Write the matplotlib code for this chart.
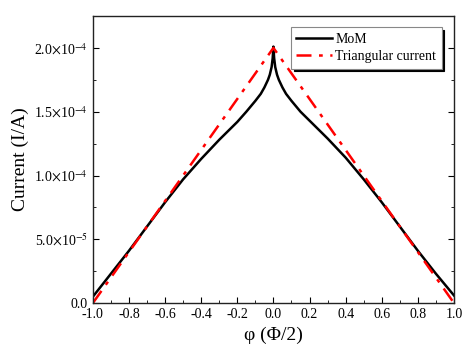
import matplotlib
matplotlib.use("Agg")
import matplotlib.pyplot as plt
from matplotlib.ticker import MultipleLocator, FuncFormatter

plt.rcParams["font.family"] = ["Liberation Serif", "DejaVu Serif"]
plt.rcParams["mathtext.fontset"] = "stix"

# MoM current distribution (units of A)
phi_mom = [-1.0, -0.9, -0.8, -0.7, -0.6, -0.5, -0.4, -0.3, -0.25, -0.2, -0.15, -0.1,
           -0.07, -0.05, -0.03, -0.02, -0.01, -0.004, 0.0,
           0.004, 0.01, 0.02, 0.03, 0.05, 0.07, 0.1, 0.15, 0.2, 0.25, 0.3, 0.4,
           0.5, 0.6, 0.7, 0.8, 0.9, 1.0]
cur_mom = [0.05e-4, 0.23e-4, 0.41e-4, 0.60e-4, 0.79e-4, 0.97e-4, 1.13e-4, 1.28e-4,
           1.35e-4, 1.42e-4, 1.50e-4, 1.585e-4, 1.64e-4, 1.69e-4, 1.75e-4, 1.79e-4,
           1.85e-4, 1.92e-4, 2.01e-4,
           1.92e-4, 1.85e-4, 1.79e-4, 1.75e-4, 1.69e-4, 1.64e-4, 1.585e-4, 1.50e-4,
           1.43e-4, 1.36e-4, 1.29e-4, 1.14e-4, 0.97e-4, 0.79e-4, 0.60e-4, 0.41e-4,
           0.23e-4, 0.06e-4]

# triangular current
phi_tri = [-1.0, 0.0, 1.0]
cur_tri = [0.0, 2.0e-4, 0.0]

fig = plt.figure(figsize=(4.71, 3.55), dpi=100)
ax = fig.add_axes([0.197, 0.146, 0.767, 0.809])

ax.plot(phi_mom, cur_mom, color="black", linewidth=1.8, label="MoM")
ax.plot(phi_tri, cur_tri, color="red", linewidth=1.8, linestyle=(0, (6, 3, 1.5, 3)),
        label="Triangular current")

ax.set_xlim(-1.0, 1.0)
ax.set_ylim(0, 2.25e-4)
ax.xaxis.set_major_locator(MultipleLocator(0.2))
ax.xaxis.set_minor_locator(MultipleLocator(0.1))
ax.yaxis.set_major_locator(MultipleLocator(5e-5))
ax.yaxis.set_minor_locator(MultipleLocator(2.5e-5))


def _yfmt(v, pos):
    if abs(v) < 1e-12:
        return "0.0"
    exp = int(f"{v:e}".split("e")[1])
    mant = v / 10 ** exp
    return f"{mant:.1f}$\\times$10$^{{{exp}}}$"


ax.yaxis.set_major_formatter(FuncFormatter(_yfmt))
ax.xaxis.set_major_formatter(FuncFormatter(lambda v, p: f"{v:.1f}"))

ax.tick_params(which="both", direction="in", top=False, right=True, labelsize=10)
ax.tick_params(which="major", length=4)
ax.tick_params(which="minor", length=2.5)
for s in ax.spines.values():
    s.set_linewidth(1.0)
    s.set_color("#222222")

ax.set_xlabel("φ (Φ/2)", fontsize=14)
ax.set_ylabel("Current (I/A)", fontsize=14)

leg = ax.legend(loc="upper right", fontsize=10, fancybox=False,
                shadow={"color": "black", "alpha": 1},
                framealpha=1, edgecolor="#888888", handlelength=2.6,
                borderpad=0.4, labelspacing=0.3, handletextpad=0.2,
                bbox_to_anchor=(0.985, 0.985))
leg.get_frame().set_linewidth(0.8)

fig.savefig("out.png", dpi=100)
